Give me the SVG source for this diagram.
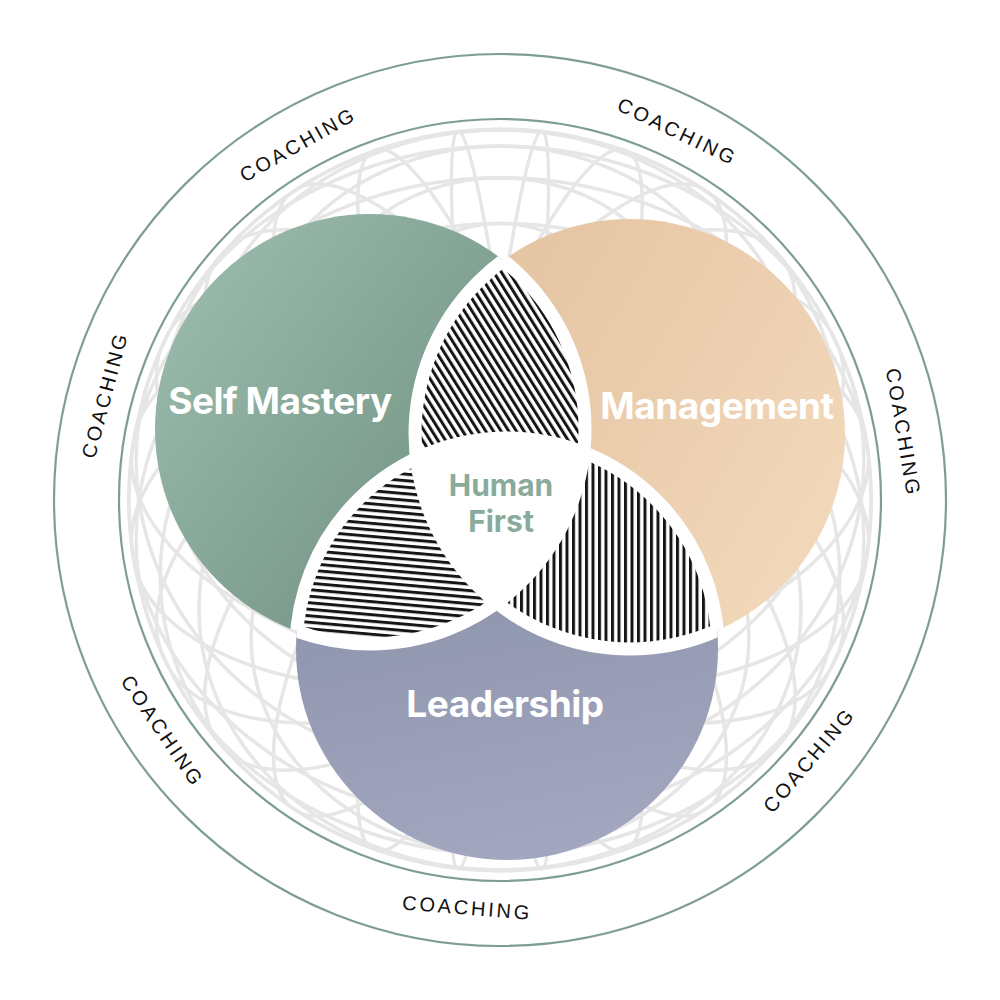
<svg xmlns="http://www.w3.org/2000/svg" width="1000" height="1000" viewBox="0 0 1000 1000">
<defs>
<style>
.ring{fill:none;stroke:#7f9e93;stroke-width:2.2}
.grid{fill:none;stroke:#e6e6e6;stroke-width:3.5}
.lbl{font-family:"Liberation Sans",Arial,sans-serif;font-size:20px;letter-spacing:2.8px;fill:#111;text-anchor:middle;dominant-baseline:central}
.big{font-family:Inter,"Liberation Sans",sans-serif;font-weight:700;font-size:37px;fill:#fff;text-anchor:middle;letter-spacing:-0.5px}
.hf{font-family:Inter,"Liberation Sans",sans-serif;font-weight:700;font-size:30px;fill:#8aab9c;text-anchor:middle;letter-spacing:0px}
.gap{fill:none;stroke:#fff;stroke-width:13}
</style>
<linearGradient id="gG" x1="0.1" y1="0.2" x2="0.9" y2="0.8"><stop offset="0" stop-color="#97b8a9"/><stop offset="1" stop-color="#6c8b7d"/></linearGradient>
<linearGradient id="gT" x1="0" y1="0.2" x2="1" y2="0.8"><stop offset="0" stop-color="#e3c29f"/><stop offset="1" stop-color="#f3d9bc"/></linearGradient>
<linearGradient id="gB" x1="0.3" y1="0" x2="0.5" y2="1"><stop offset="0" stop-color="#878ca6"/><stop offset="1" stop-color="#a2a7bf"/></linearGradient>
<pattern id="hA" width="6.5" height="6.5" patternUnits="userSpaceOnUse" patternTransform="rotate(-32)"><rect width="6.5" height="6.5" fill="#fff"/><rect width="3" height="6.5" fill="#151515"/></pattern>
<pattern id="hB" width="6.5" height="6.5" patternUnits="userSpaceOnUse" patternTransform="rotate(5)"><rect width="6.5" height="6.5" fill="#fff"/><rect width="6.5" height="3" fill="#151515"/></pattern>
<pattern id="hC" width="6.5" height="6.5" patternUnits="userSpaceOnUse"><rect width="6.5" height="6.5" fill="#fff"/><rect width="3" height="6.5" fill="#151515"/></pattern>
<clipPath id="cpS"><circle cx="500" cy="500" r="373"/></clipPath>
<clipPath id="cpG"><circle cx="370" cy="429" r="215"/></clipPath>
<clipPath id="cpT"><circle cx="630" cy="434" r="215"/></clipPath>
<clipPath id="cpB"><circle cx="507" cy="649" r="211"/></clipPath>
<clipPath id="cpTB"><circle cx="630" cy="434" r="215"/><circle cx="507" cy="649" r="211"/></clipPath>
<clipPath id="cpGB"><circle cx="370" cy="429" r="215"/><circle cx="507" cy="649" r="211"/></clipPath>
<clipPath id="cpGT"><circle cx="370" cy="429" r="215"/><circle cx="630" cy="434" r="215"/></clipPath>
</defs>
<rect width="1000" height="1000" fill="#fff"/>

<g id="sphere-grid" clip-path="url(#cpS)">
<g class="grid">
<ellipse cx="500" cy="500" rx="24.3" ry="372" transform="rotate(-6.5 500 500)"/>
<ellipse cx="500" cy="500" rx="71.2" ry="372" transform="rotate(-19.7 500 500)"/>
<ellipse cx="500" cy="500" rx="113.2" ry="372" transform="rotate(-33.6 500 500)"/>
<ellipse cx="500" cy="500" rx="147.6" ry="372" transform="rotate(-48.5 500 500)"/>
<ellipse cx="500" cy="500" rx="171.8" ry="372" transform="rotate(-64.4 500 500)"/>
<ellipse cx="500" cy="500" rx="184.4" ry="372" transform="rotate(-81.4 500 500)"/>
<ellipse cx="500" cy="500" rx="184.4" ry="372" transform="rotate(81.4 500 500)"/>
<ellipse cx="500" cy="500" rx="171.8" ry="372" transform="rotate(64.4 500 500)"/>
<ellipse cx="500" cy="500" rx="147.6" ry="372" transform="rotate(48.5 500 500)"/>
<ellipse cx="500" cy="500" rx="113.2" ry="372" transform="rotate(33.6 500 500)"/>
<ellipse cx="500" cy="500" rx="71.2" ry="372" transform="rotate(19.7 500 500)"/>
<ellipse cx="500" cy="500" rx="24.3" ry="372" transform="rotate(6.5 500 500)"/>
<ellipse cx="500" cy="500" rx="372" ry="322.2"/>
<ellipse cx="500" cy="461.3" rx="363.9" ry="315.2"/>
<ellipse cx="500" cy="538.7" rx="363.9" ry="315.2"/>
<ellipse cx="500" cy="424.4" rx="339.8" ry="294.3"/>
<ellipse cx="500" cy="575.6" rx="339.8" ry="294.3"/>
<ellipse cx="500" cy="390.7" rx="301" ry="260.7"/>
<ellipse cx="500" cy="609.3" rx="301" ry="260.7"/>
<ellipse cx="500" cy="361.8" rx="248.9" ry="215.6"/>
<ellipse cx="500" cy="638.2" rx="248.9" ry="215.6"/>
<ellipse cx="500" cy="338.9" rx="186" ry="161.1"/>
<ellipse cx="500" cy="661.1" rx="186" ry="161.1"/>
<ellipse cx="500" cy="323.1" rx="115" ry="99.6"/>
<ellipse cx="500" cy="676.9" rx="115" ry="99.6"/>
<circle cx="500" cy="500" r="371"/>
</g>
</g>

<g id="coaching-ring">
<circle class="ring" cx="500" cy="500" r="446"/>
<circle class="ring" cx="500" cy="500" r="381"/>
<text class="lbl" transform="translate(298 144.4) rotate(-29.6)">COACHING</text>
<text class="lbl" transform="translate(677.4 131.5) rotate(25.7)">COACHING</text>
<text class="lbl" transform="translate(903.4 432.5) rotate(80.5)">COACHING</text>
<text class="lbl" transform="translate(809 760) rotate(-49.9)">COACHING</text>
<text class="lbl" transform="translate(467.2 907.7) rotate(4.6)">COACHING</text>
<text class="lbl" transform="translate(162.5 731.1) rotate(55.6)">COACHING</text>
<text class="lbl" transform="translate(104.8 394.8) rotate(-75.1)">COACHING</text>
</g>

<g id="self-mastery">
<circle cx="370" cy="429" r="215" fill="url(#gG)"/>
<text class="big" x="280" y="414">Self Mastery</text>
</g>
<g id="management">
<circle cx="630" cy="434" r="215" fill="url(#gT)"/>
<text class="big" x="717" y="419">Management</text>
</g>
<g id="leadership">
<circle cx="507" cy="649" r="211" fill="url(#gB)"/>
<text class="big" x="505" y="717">Leadership</text>
</g>

<g id="overlap-self-management" clip-path="url(#cpG)">
<rect x="380" y="240" width="240" height="260" fill="url(#hA)" clip-path="url(#cpT)"/>
</g>
<g id="overlap-self-leadership" clip-path="url(#cpG)">
<rect x="280" y="420" width="260" height="240" fill="url(#hB)" clip-path="url(#cpB)"/>
</g>
<g id="overlap-management-leadership" clip-path="url(#cpT)">
<rect x="470" y="420" width="270" height="240" fill="url(#hC)" clip-path="url(#cpB)"/>
</g>

<g id="human-first">
<g clip-path="url(#cpG)"><g clip-path="url(#cpT)"><circle cx="507" cy="649" r="211" fill="#fff"/></g></g>
<text class="hf" x="501" y="496">Human</text>
<text class="hf" x="501" y="532">First</text>
</g>

<g id="separators">
<circle class="gap" cx="370" cy="429" r="215" clip-path="url(#cpTB)"/>
<circle class="gap" cx="630" cy="434" r="215" clip-path="url(#cpGB)"/>
<circle class="gap" cx="507" cy="649" r="211" clip-path="url(#cpGT)"/>
</g>
</svg>
